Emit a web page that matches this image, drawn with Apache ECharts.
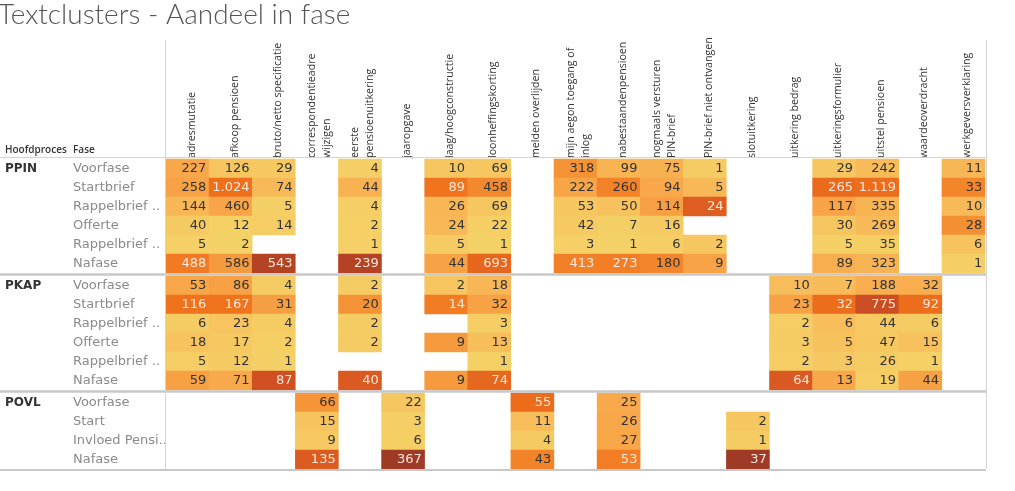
<!DOCTYPE html>
<html><head><meta charset="utf-8">
<script src="https://cdn.jsdelivr.net/npm/echarts@6/dist/echarts.min.js"></script>
<style>html,body{margin:0;padding:0;background:#fff}#c{width:1015px;height:491px}</style>
</head><body><div id="c"></div>
<script>
const chartTitle = 'Textclusters - Aandeel in fase';
const columns = ['adresmutatie','afkoop pensioen','bruto/netto specificatie','correspondentieadre\nwijzigen','eerste\npensioenuitkering','jaaropgave','laag/hoogconstructie','loonheffingskorting','melden overlijden','mijn aegon toegang of\ninlog','nabestaandenpensioen','nogmaals versturen\nPIN-brief','PIN-brief niet ontvangen','slotuitkering','uitkering bedrag','uitkeringsformulier','uitstel pensioen','waardeoverdracht','werkgeversverklaring'];
const processes = ['PPIN','PKAP','POVL'];
const fasesPPIN = ['Voorfase','Startbrief','Rappelbrief ..','Offerte','Rappelbrief ..','Nafase'];
const fasesPKAP = ['Voorfase','Startbrief','Rappelbrief ..','Offerte','Rappelbrief ..','Nafase'];
const fasesPOVL = ['Voorfase','Start','Invloed Pensi..','Nafase'];
const _ = null;
const valuesPPIN = [
  [227,126,29,_,4,_,10,69,_,318,99,75,1,_,_,29,242,_,11],
  [258,1024,74,_,44,_,89,458,_,222,260,94,5,_,_,265,1119,_,33],
  [144,460,5,_,4,_,26,69,_,53,50,114,24,_,_,117,335,_,10],
  [40,12,14,_,2,_,24,22,_,42,7,16,_,_,_,30,269,_,28],
  [5,2,_,_,1,_,5,1,_,3,1,6,2,_,_,5,35,_,6],
  [488,586,543,_,239,_,44,693,_,413,273,180,9,_,_,89,323,_,1]
];
const valuesPKAP = [
  [53,86,4,_,2,_,2,18,_,_,_,_,_,_,10,7,188,32,_],
  [116,167,31,_,20,_,14,32,_,_,_,_,_,_,23,32,775,92,_],
  [6,23,4,_,2,_,_,3,_,_,_,_,_,_,2,6,44,6,_],
  [18,17,2,_,2,_,9,13,_,_,_,_,_,_,3,5,47,15,_],
  [5,12,1,_,_,_,_,1,_,_,_,_,_,_,2,3,26,1,_],
  [59,71,87,_,40,_,9,74,_,_,_,_,_,_,64,13,19,44,_]
];
const valuesPOVL = [
  [_,_,_,66,_,22,_,_,55,_,25,_,_,_,_,_,_,_,_],
  [_,_,_,15,_,3,_,_,11,_,26,_,_,2,_,_,_,_,_],
  [_,_,_,9,_,6,_,_,4,_,27,_,_,1,_,_,_,_,_],
  [_,_,_,135,_,367,_,_,43,_,53,_,_,37,_,_,_,_,_]
];

const groups = [
  {name: processes[0], fases: fasesPPIN, values: valuesPPIN},
  {name: processes[1], fases: fasesPKAP, values: valuesPKAP},
  {name: processes[2], fases: fasesPOVL, values: valuesPOVL}
];
const palette = ['#f4d166','#f8be5c','#f8aa4c','#f5983b','#f3852a','#ef701b','#e2621f','#d65322','#c54923','#b14223','#9e3a26'];
const fmt = v => String(v).replace(/\B(?=(\d{3})+(?!\d))/g, '.');

// layout
const gridLeft = 166, gridWidth = 819, rowH = 19;
const tops = [159, 276, 393];
const lineColor = '#d4d4d4', sepColor = '#c8c8c8';
const hdrLH = 15;
const hdrShift = {single: 4, multi: 2.5};

let maxShare = 0;
const seriesData = groups.map(g => {
  const colTot = columns.map((c, ci) => g.values.reduce((s, r) => s + (r[ci] || 0), 0));
  const out = [];
  g.values.forEach((row, ri) => row.forEach((v, ci) => {
    if (v === null) return;
    const share = v / colTot[ci];
    maxShare = Math.max(maxShare, share);
    out.push({value: [ci, ri, v, share], label: {color: share >= 0.39 ? '#fde6da' : '#333333'}});
  }));
  return out;
});

const hiddenAxis = {axisLine: {show: false, onZero: false}, axisTick: {show: false}, splitLine: {show: false}};

const grids = [], xAxes = [], yAxes = [], series = [];
groups.forEach((g, gi) => {
  grids.push({left: gridLeft, width: gridWidth, top: tops[gi], height: g.fases.length * rowH, containLabel: false});
  xAxes.push(Object.assign({
    type: 'category', gridIndex: gi, data: columns, position: 'top', axisLabel: {show: false}
  }, hiddenAxis));
  yAxes.push(Object.assign({
    type: 'category', gridIndex: gi, data: g.fases, inverse: true,
    axisLabel: {
      interval: 0, align: 'left', margin: gridLeft - 5,
      formatter: (val, idx) => (idx === 0 ? '{h|' + g.name + '}' : '{h|}') + '{f|' + val + '}',
      rich: {
        h: {width: 68, fontFamily: 'DejaVu Sans', fontWeight: 'bold', fontSize: 12, color: '#333'},
        f: {fontFamily: 'DejaVu Sans', fontSize: 13, color: '#8a8a8a'}
      }
    }
  }, hiddenAxis));
  series.push({
    type: 'heatmap', xAxisIndex: gi, yAxisIndex: gi, data: seriesData[gi],
    encode: {x: 0, y: 1, value: 2},
    label: {show: true, position: 'insideRight', distance: 3, fontFamily: 'DejaVu Sans', fontSize: 13,
      formatter: p => fmt(p.value[2])},
    emphasis: {disabled: true}, itemStyle: {borderWidth: 0}
  });
});
// header axes for column names (rotated labels); one for one-line names, one for two-line names
[false, true].forEach(multi => {
  const gi = grids.length;
  grids.push({left: gridLeft + (multi ? hdrShift.multi : hdrShift.single), width: gridWidth, top: tops[0], height: 1, containLabel: false});
  xAxes.push(Object.assign({
    type: 'category', gridIndex: gi, data: columns, position: 'top',
    axisLabel: {
      show: true, rotate: -90, interval: 0, margin: 1,
      formatter: v => ((v.indexOf('\n') >= 0) === multi ? v.split('\n').map(s => '{a|' + s + '}').join('\n') : ''),
      rich: {a: {fontFamily: 'Open Sans', fontSize: 10.6, color: '#333', lineHeight: hdrLH}}
    }
  }, hiddenAxis));
  yAxes.push(Object.assign({type: 'category', gridIndex: gi, data: [''], axisLabel: {show: false}}, hiddenAxis));
});

const right = gridLeft + gridWidth + 1;
const hline = (y, w, c) => ({type: 'line', shape: {x1: 0, y1: y, x2: right, y2: y}, style: {stroke: c, lineWidth: w}, z: 100});
const lastTop = tops[2] + groups[2].fases.length * rowH;
const graphics = [
  hline(tops[0] - 1.5, 1, lineColor),
  hline(tops[0] + groups[0].fases.length * rowH + 1.5, 2.5, sepColor),
  hline(tops[1] + groups[1].fases.length * rowH + 1.5, 2.5, sepColor),
  hline(lastTop + 1, 2, sepColor),
  {type: 'line', shape: {x1: gridLeft - 0.5, y1: 40, x2: gridLeft - 0.5, y2: lastTop}, style: {stroke: lineColor, lineWidth: 1}, z: 100},
  {type: 'line', shape: {x1: right + 0.5, y1: 40, x2: right + 0.5, y2: lastTop}, style: {stroke: lineColor, lineWidth: 1}, z: 100},
  {type: 'text', left: 5, top: 145, style: {text: 'Hoofdproces', fontFamily: 'Open Sans', fontWeight: 600, fontSize: 10, fill: '#333'}},
  {type: 'text', left: 73, top: 145, style: {text: 'Fase', fontFamily: 'Open Sans', fontWeight: 600, fontSize: 10, fill: '#333'}}
];

const chart = echarts.init(document.getElementById('c'), null, {renderer: 'canvas'});
chart.setOption({
  animation: false,
  backgroundColor: '#fff',
  title: {text: chartTitle, left: -2, top: 0, padding: [1, 0, 0, 0],
    textStyle: {fontFamily: 'Lato', fontWeight: 300, fontSize: 28, color: '#555'}},
  grid: grids, xAxis: xAxes, yAxis: yAxes,
  visualMap: {show: false, type: 'continuous', dimension: 3, min: 0, max: maxShare, seriesIndex: [0, 1, 2],
    inRange: {color: palette}},
  series: series,
  graphic: graphics
});
</script></body></html>
